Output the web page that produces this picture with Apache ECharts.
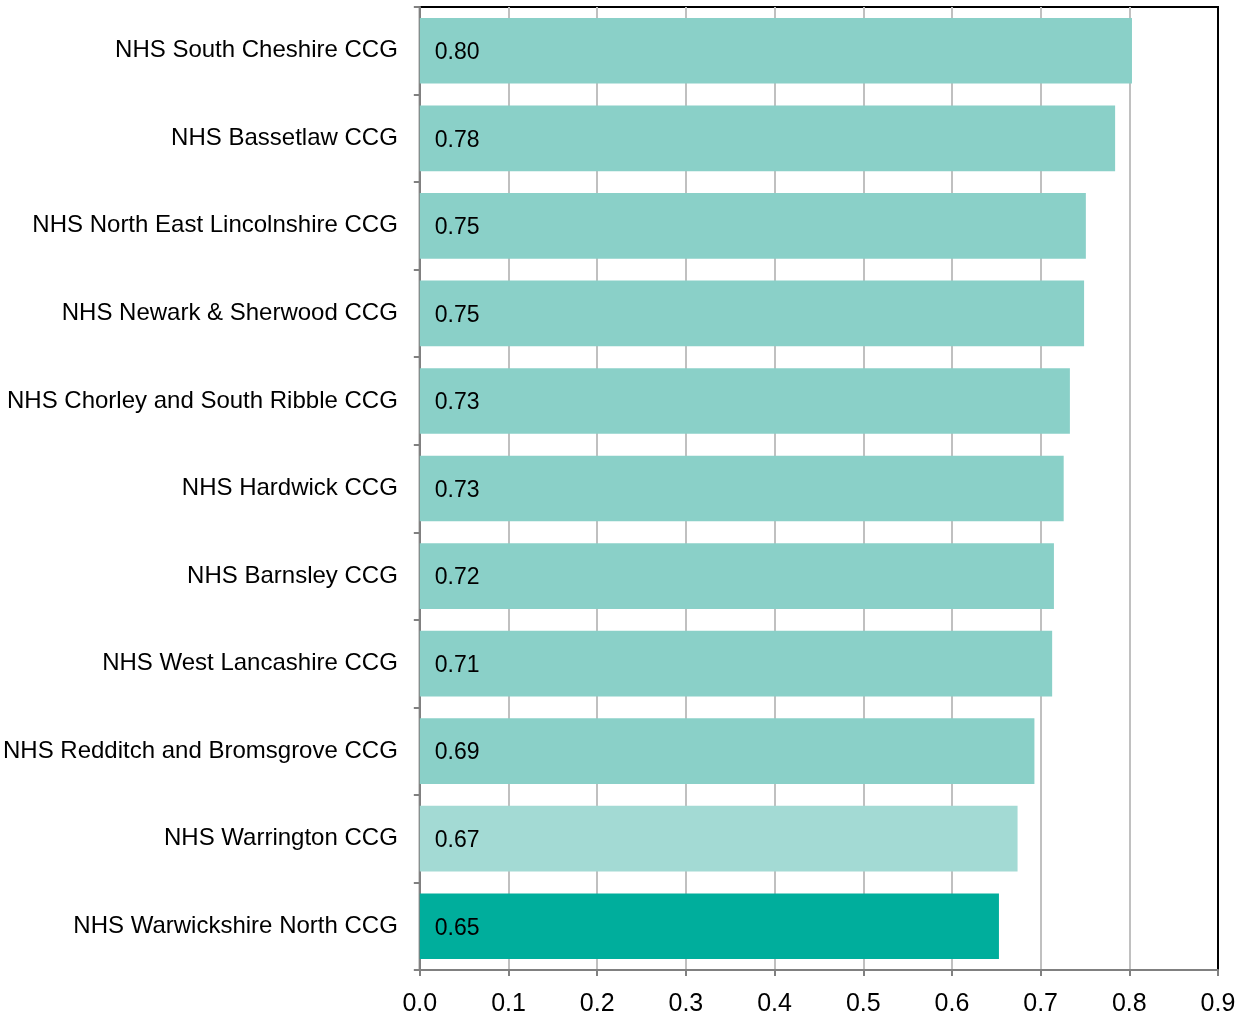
<!DOCTYPE html>
<html>
<head>
<meta charset="utf-8">
<script src="https://cdn.jsdelivr.net/npm/echarts@6/dist/echarts.min.js"></script>
<style>html,body{margin:0;padding:0;background:#fff}#c{width:1240px;height:1017px}</style>
</head>
<body>
<div id="c"></div>
<script>
const categories = [
  "NHS South Cheshire CCG",
  "NHS Bassetlaw CCG",
  "NHS North East Lincolnshire CCG",
  "NHS Newark & Sherwood CCG",
  "NHS Chorley and South Ribble CCG",
  "NHS Hardwick CCG",
  "NHS Barnsley CCG",
  "NHS West Lancashire CCG",
  "NHS Redditch and Bromsgrove CCG",
  "NHS Warrington CCG",
  "NHS Warwickshire North CCG"
];
const values = [0.803, 0.784, 0.751, 0.749, 0.733, 0.726, 0.715, 0.713, 0.693, 0.674, 0.653];
const labels = ["0.80","0.78","0.75","0.75","0.73","0.73","0.72","0.71","0.69","0.67","0.65"];
const barColors = ["#8ad0c8","#8ad0c8","#8ad0c8","#8ad0c8","#8ad0c8","#8ad0c8","#8ad0c8","#8ad0c8","#8ad0c8","#a3dad4","#00ae9c"];

const chart = echarts.init(document.getElementById('c'), null, {renderer: 'canvas'});
chart.setOption({
  animation: false,
  grid: {left: 419, top: 7, right: 22, bottom: 46, show: true, borderColor: '#000', borderWidth: 2, backgroundColor: 'transparent'},
  xAxis: {
    type: 'value', min: 0, max: 0.9, interval: 0.1,
    axisLine: {show: true, lineStyle: {color: '#808080', width: 2}},
    axisTick: {show: true, length: 6, lineStyle: {color: '#808080', width: 2}},
    splitLine: {show: true, showMaxLine: false, lineStyle: {color: '#c0c0c0', width: 2}},
    axisLabel: {color: '#000', fontSize: 25, fontFamily: 'Liberation Sans, Arial', margin: 22, formatter: v => v.toFixed(1)}
  },
  yAxis: {
    type: 'category', inverse: true, data: categories,
    axisLine: {show: true, lineStyle: {color: '#808080', width: 2}},
    axisTick: {show: true, length: 6, lineStyle: {color: '#808080', width: 2}},
    axisLabel: {color: '#000', fontSize: 24, fontFamily: 'Liberation Sans, Arial', margin: 22, padding: [3, 0, 0, 0]}
  },
  series: [{
    type: 'bar',
    barCategoryGap: '25%',
    data: values.map((v, i) => ({value: v, itemStyle: {color: barColors[i]}})),
    label: {
      show: true, position: 'insideLeft', distance: 15, offset: [0, 2],
      color: '#000', fontSize: 23, fontFamily: 'Liberation Sans, Arial',
      formatter: p => labels[p.dataIndex]
    }
  }]
});
</script>
</body>
</html>
